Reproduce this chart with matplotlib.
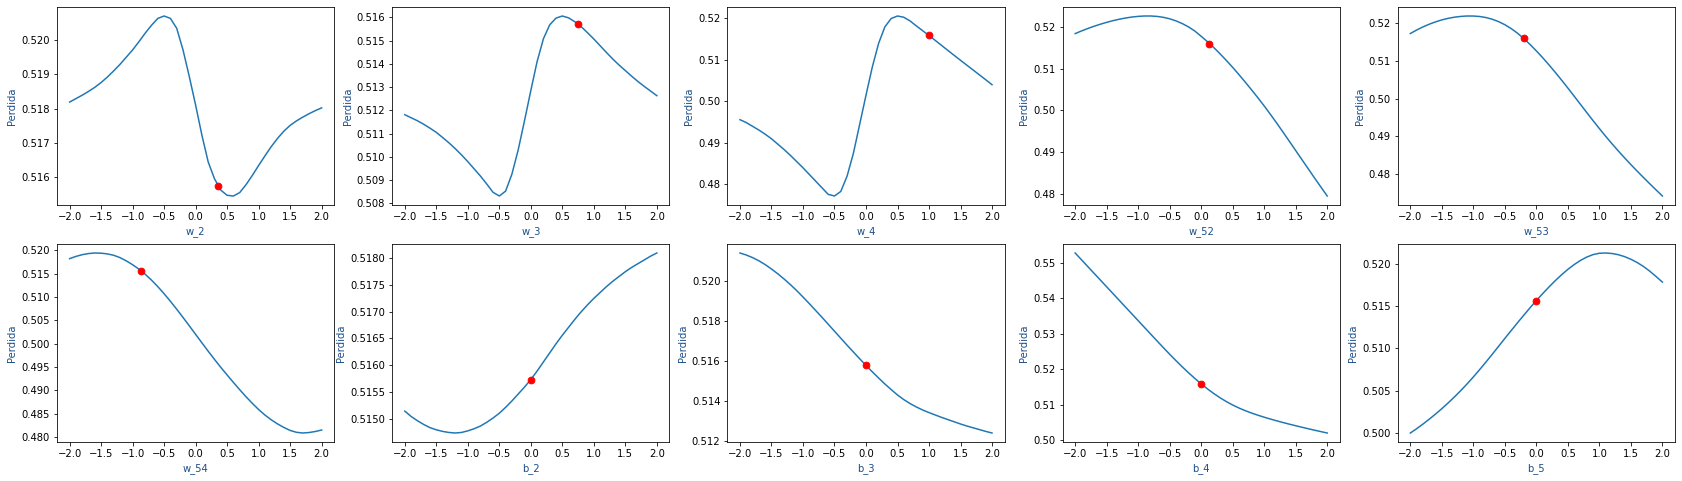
import matplotlib
matplotlib.use("Agg")
import matplotlib.pyplot as plt

# ---------------- data ----------------
x_vals = [round(-2.0 + 0.1 * i, 1) for i in range(41)]

w_2 = [0.51819, 0.51829, 0.51839, 0.51850, 0.51862, 0.51876, 0.51892, 0.51910,
       0.51929, 0.51950, 0.51971, 0.51995, 0.52020, 0.52043, 0.52063, 0.52070,
       0.52063, 0.52034, 0.51971, 0.51893, 0.51810, 0.51722, 0.51644, 0.51595,
       0.51562, 0.51547, 0.51545, 0.51555, 0.51578, 0.51605, 0.51634, 0.51662,
       0.51689, 0.51713, 0.51734, 0.51751, 0.51764, 0.51775, 0.51785, 0.51794,
       0.51802]
w_3 = [0.51181, 0.51168, 0.51155, 0.51140, 0.51123, 0.51105, 0.51083, 0.51060,
       0.51035, 0.51008, 0.50979, 0.50948, 0.50917, 0.50883, 0.50847, 0.50831,
       0.50852, 0.50925, 0.51030, 0.51155, 0.51285, 0.51410, 0.51508, 0.51568,
       0.51597, 0.51606, 0.51598, 0.51581, 0.51560, 0.51534, 0.51507, 0.51478,
       0.51449, 0.51421, 0.51395, 0.51371, 0.51347, 0.51324, 0.51303, 0.51283,
       0.51263]
w_4 = [0.4956, 0.4949, 0.4940, 0.4931, 0.4921, 0.4910, 0.4897, 0.4884,
       0.4870, 0.4855, 0.4840, 0.4824, 0.4808, 0.4792, 0.4776, 0.4772,
       0.4783, 0.4820, 0.4875, 0.4945, 0.5015, 0.5083, 0.5140, 0.5180,
       0.5200, 0.5206, 0.5203, 0.51940, 0.51820, 0.51705, 0.51589, 0.51470,
       0.51350, 0.51230, 0.51110, 0.50992, 0.50875, 0.50758, 0.50641, 0.50523,
       0.50403]
w_52 = [0.51840, 0.51903, 0.51962, 0.52016, 0.52065, 0.52110, 0.52150, 0.52185,
        0.52214, 0.52237, 0.52253, 0.52262, 0.52262, 0.52252, 0.52230, 0.52195,
        0.52145, 0.52080, 0.52000, 0.51900, 0.51775, 0.51645, 0.51505, 0.51355,
        0.51195, 0.51030, 0.50855, 0.50675, 0.50490, 0.50300, 0.50105, 0.49900,
        0.49690, 0.49475, 0.49255, 0.49035, 0.48815, 0.48595, 0.48375, 0.48160,
        0.47945]
w_53 = [0.51720, 0.51813, 0.51895, 0.51967, 0.52029, 0.52081, 0.52122, 0.52153,
        0.52173, 0.52184, 0.52183, 0.52171, 0.52143, 0.52098, 0.52035, 0.51953,
        0.51851, 0.51729, 0.51587, 0.51430, 0.51260, 0.51080, 0.50890, 0.50692,
        0.50487, 0.50276, 0.50061, 0.49844, 0.49627, 0.49413, 0.49203, 0.48999,
        0.48802, 0.48612, 0.48428, 0.48250, 0.48077, 0.47908, 0.47742, 0.47579,
        0.47419]
w_54 = [0.51820, 0.51868, 0.51905, 0.51929, 0.51941, 0.51937, 0.51922, 0.51892,
        0.51842, 0.51772, 0.51690, 0.51595, 0.51485, 0.51360, 0.51220, 0.51068,
        0.50906, 0.50736, 0.50560, 0.50380, 0.50198, 0.50016, 0.49836, 0.49660,
        0.49490, 0.49327, 0.49167, 0.49011, 0.48861, 0.48719, 0.48587, 0.48469,
        0.48367, 0.48279, 0.48203, 0.48139, 0.48099, 0.48084, 0.48094, 0.48116,
        0.48148]
b_2 = [0.51514, 0.51504, 0.51496, 0.51489, 0.51483, 0.51479, 0.51476, 0.51474,
       0.51473, 0.51474, 0.51477, 0.51481, 0.51486, 0.51493, 0.51501, 0.51510,
       0.51521, 0.51533, 0.51546, 0.51559, 0.51573, 0.51589, 0.51606, 0.51623,
       0.51640, 0.51656, 0.51671, 0.51686, 0.51700, 0.51713, 0.51725, 0.51736,
       0.51747, 0.51757, 0.51766, 0.51775, 0.51783, 0.51790, 0.51797, 0.51804,
       0.51810]
b_3 = [0.52140, 0.52130, 0.52117, 0.52101, 0.52082, 0.52060, 0.52036, 0.52010,
       0.51982, 0.51952, 0.51920, 0.51887, 0.51853, 0.51819, 0.51784, 0.51749,
       0.51714, 0.51679, 0.51645, 0.51611, 0.51578, 0.51546, 0.51515, 0.51485,
       0.51457, 0.51430, 0.51407, 0.51387, 0.51370, 0.51355, 0.51342, 0.51330,
       0.51318, 0.51307, 0.51296, 0.51285, 0.51275, 0.51266, 0.51257, 0.51248,
       0.51240]
b_4 = [0.55280, 0.55089, 0.54898, 0.54707, 0.54516, 0.54325, 0.54134, 0.53943,
       0.53752, 0.53561, 0.53370, 0.53179, 0.52988, 0.52797, 0.52608, 0.52422,
       0.52241, 0.52066, 0.51898, 0.51738, 0.51586, 0.51444, 0.51313, 0.51193,
       0.51085, 0.50989, 0.50904, 0.50829, 0.50762, 0.50701, 0.50645, 0.50592,
       0.50542, 0.50494, 0.50448, 0.50404, 0.50361, 0.50319, 0.50278, 0.50238,
       0.50199]
b_5 = [0.49996, 0.50047, 0.50102, 0.50160, 0.50221, 0.50285, 0.50353, 0.50424,
       0.50499, 0.50578, 0.50661, 0.50748, 0.50838, 0.50930, 0.51024, 0.51118,
       0.51211, 0.51303, 0.51393, 0.51482, 0.51567, 0.51649, 0.51728, 0.51803,
       0.51873, 0.51937, 0.51994, 0.52043, 0.52083, 0.52112, 0.52128, 0.52131,
       0.52125, 0.52111, 0.52088, 0.52057, 0.52018, 0.51971, 0.51915, 0.51852,
       0.51786]

param_names = ["w_2", "w_3", "w_4", "w_52", "w_53",
               "w_54", "b_2", "b_3", "b_4", "b_5"]
curves = [w_2, w_3, w_4, w_52, w_53, w_54, b_2, b_3, b_4, b_5]
current_values = [0.36, 0.75, 1.0, 0.13, -0.2, -0.87, 0.0, 0.0, 0.0, 0.0]
current_loss = [0.51575, 0.51571, 0.5159, 0.5159, 0.5159,
                0.51565, 0.51573, 0.51578, 0.5159, 0.51567]

# ---------------- figure ----------------
DPI = 72
fig, axes = plt.subplots(2, 5, figsize=(1682 / DPI, 481 / DPI), dpi=DPI)
fig.subplots_adjust(left=57 / 1682, right=1675 / 1682,
                    top=1 - 7 / 481, bottom=1 - 442 / 481,
                    wspace=0.209, hspace=0.197)

label_color = "#1d4e89"
for ax, name, ys, cx, cy in zip(axes.flat, param_names, curves,
                                current_values, current_loss):
    ax.plot(x_vals, ys, color="#1f77b4", linewidth=1.5)
    ax.scatter([cx], [cy], color="red", s=45, zorder=3)
    ax.set_xlabel(name, color=label_color, fontsize=10)
    ax.set_ylabel("Perdida", color=label_color, fontsize=10)
    ax.set_xticks([-2.0, -1.5, -1.0, -0.5, 0.0, 0.5, 1.0, 1.5, 2.0])
    ax.tick_params(labelsize=10)

fig.savefig("out.png", dpi=DPI)
